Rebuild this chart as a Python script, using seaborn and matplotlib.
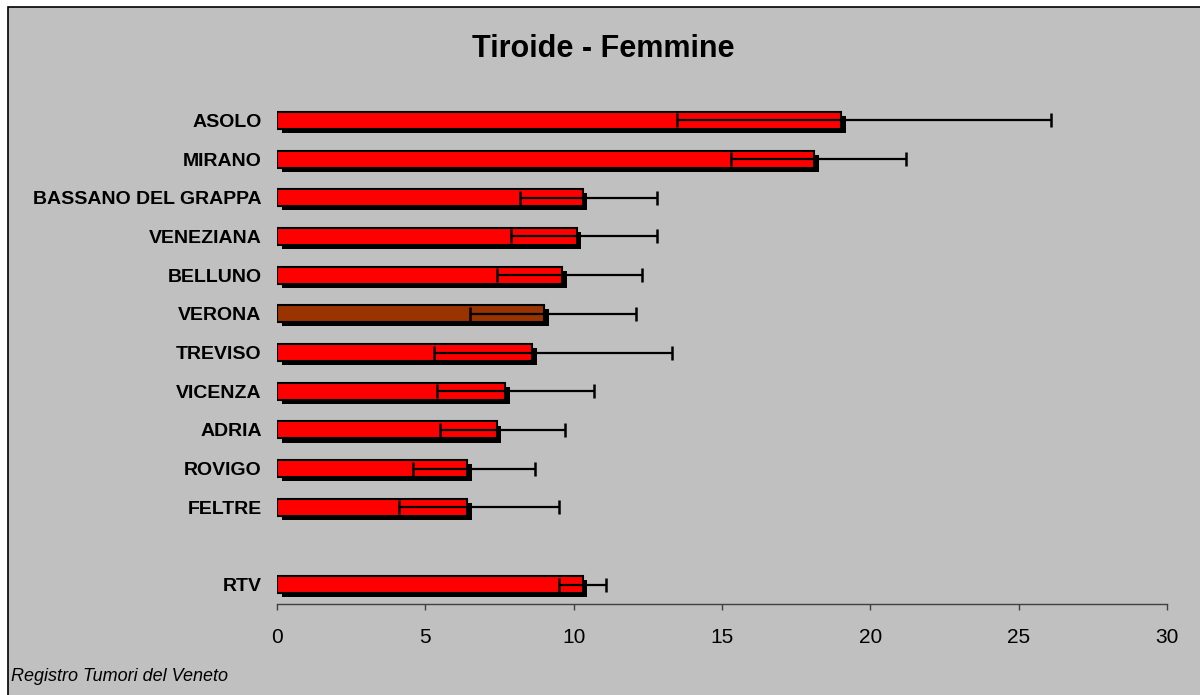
import pandas as pd
import matplotlib
matplotlib.use('Agg')
import matplotlib.pyplot as plt
import matplotlib.patheffects as pe
from matplotlib.patches import Rectangle
import seaborn as sns

# values
areas = ['ASOLO', 'MIRANO', 'BASSANO DEL GRAPPA', 'VENEZIANA', 'BELLUNO', 'VERONA',
         'TREVISO', 'VICENZA', 'ADRIA', 'ROVIGO', 'FELTRE', 'RTV']
rates = [19.0, 18.1, 10.3, 10.1, 9.6, 9.0, 8.6, 7.7, 7.4, 6.4, 6.4, 10.3]
ci_low = [13.5, 15.3, 8.2, 7.9, 7.4, 6.5, 5.3, 5.4, 5.5, 4.6, 4.1, 9.5]
ci_high = [26.1, 21.2, 12.8, 12.8, 12.3, 12.1, 13.3, 10.7, 9.7, 8.7, 9.5, 11.1]
bar_colors = ['#FF0000'] * 5 + ['#993300'] + ['#FF0000'] * 6
order = areas[:-1] + [' '] + ['RTV']
xticks = [0, 5, 10, 15, 20, 25, 30]

df = pd.DataFrame({'area': areas, 'rate': rates, 'lo': ci_low, 'hi': ci_high})

sns.set_style('white')
plt.rcParams['font.family'] = ['Liberation Sans', 'DejaVu Sans']
plt.rcParams['text.color'] = 'black'
plt.rcParams['xtick.color'] = 'black'
plt.rcParams['ytick.color'] = 'black'

fig = plt.figure(figsize=(12, 6.95), dpi=100, facecolor='white')
fig.patches.append(Rectangle((8 / 1200, -0.05), 1.1, 1.05 - 7 / 695, transform=fig.transFigure,
                             facecolor='#C0C0C0', edgecolor='black', linewidth=1.2, zorder=-10))

ax = fig.add_axes([0.2308, 0.1309, 0.7417, 0.7238])
ax.set_facecolor('none')

sns.barplot(data=df, x='rate', y='area', hue='area', order=order, hue_order=areas,
            palette=dict(zip(areas, bar_colors)), orient='h', width=0.44, saturation=1,
            edgecolor='black', linewidth=1.5, legend=False, ax=ax, zorder=2)

# drop shadow under each bar
for bar in ax.patches:
    bar.set_path_effects([pe.SimplePatchShadow(offset=(3.5, -3), shadow_rgbFace='black', alpha=1),
                          pe.Normal()])

pos = [order.index(a) for a in areas]
ax.errorbar(df['rate'], pos, xerr=[df['rate'] - df['lo'], df['hi'] - df['rate']],
            fmt='none', ecolor='black', elinewidth=1.6, capsize=5, capthick=1.8, zorder=4)

ax.set_xlim(0, 30)
ax.set_ylim(len(order) - 0.5, -0.5)
ax.set_xticks(xticks)
ax.set_xticklabels([str(t) for t in xticks], fontsize=15)
ax.tick_params(axis='x', direction='out', length=4.5, width=1, color='#404040', pad=13, bottom=True)
ax.tick_params(axis='y', length=0, pad=11)
for lab in ax.get_yticklabels():
    lab.set_fontweight('bold')
    lab.set_fontsize(14)
ax.set_xlabel('')
ax.set_ylabel('')
for s in ['top', 'right', 'left']:
    ax.spines[s].set_visible(False)
ax.spines['bottom'].set_color('#404040')
ax.spines['bottom'].set_linewidth(1)

fig.text(0.503, 0.929, 'Tiroide - Femmine', ha='center', va='center', fontsize=22, fontweight='bold')
fig.text(0.009, 0.026, 'Registro Tumori del Veneto', ha='left', va='center', fontsize=13, style='italic')

fig.savefig('out.png', dpi=100, facecolor='white')
